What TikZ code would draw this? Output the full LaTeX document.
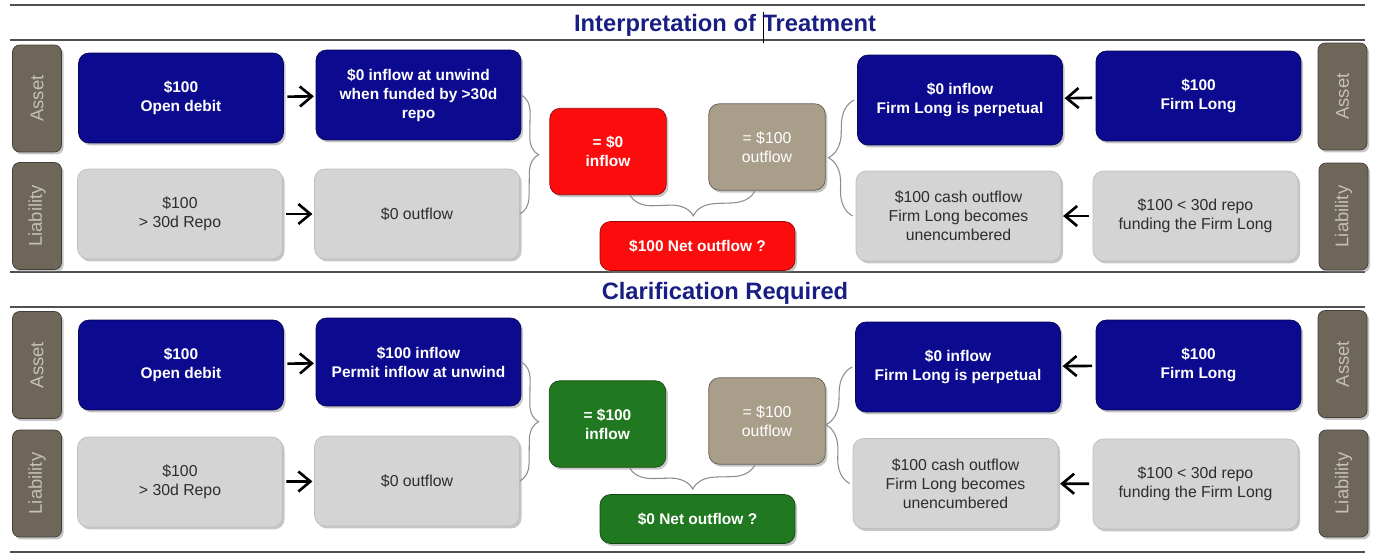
\documentclass[tikz,border=0pt]{standalone}
\usepackage{fontspec}
\setmainfont{Liberation Sans}
\usetikzlibrary{arrows.meta,shadows,decorations.pathreplacing,calc}

\definecolor{boxblue}{RGB}{12,10,142}
\definecolor{boxred}{RGB}{252,12,12}
\definecolor{boxgreen}{RGB}{32,120,32}
\definecolor{boxtan}{RGB}{168,158,138}
\definecolor{boxgrey}{RGB}{212,212,212}
\definecolor{greytext}{RGB}{45,45,45}
\definecolor{tagbrown}{RGB}{110,102,88}
\definecolor{tagtext}{RGB}{196,192,184}
\definecolor{titleblue}{RGB}{25,30,130}
\definecolor{rulegrey}{RGB}{80,80,80}

\begin{document}
\begin{tikzpicture}[x=0.02cm, y=-0.02cm]
        % Define styles
        \tikzset{
            card/.style={rounded corners=6pt, minimum width=4.1cm, minimum height=1.8cm,
                align=center, inner sep=2pt,
                drop shadow={shadow xshift=1.2pt, shadow yshift=-1.4pt, opacity=0.45}},
            bluecard/.style={card, fill=boxblue, draw=boxblue!60!black, text=white,
                font=\fontsize{8.8}{10.8}\selectfont\bfseries},
            greycard/.style={card, fill=boxgrey, draw=black!25, text=greytext,
                font=\fontsize{9}{10.8}\selectfont},
            sumcard/.style={card, minimum width=2.33cm, minimum height=1.73cm,
                font=\fontsize{8.8}{10.8}\selectfont\bfseries, text=white},
            netcard/.style={card, minimum width=3.9cm, minimum height=0.98cm,
                font=\fontsize{8.8}{10.8}\selectfont\bfseries, text=white},
            sidetag/.style={rounded corners=4pt, fill=tagbrown, draw=tagbrown!60!black,
                text=tagtext, rotate=90, minimum width=2.14cm, minimum height=0.98cm,
                font=\fontsize{10.5}{12}\selectfont,
                drop shadow={shadow xshift=1.2pt, shadow yshift=-1.4pt, opacity=0.45}},
            heading/.style={font=\fontsize{13.5}{16}\selectfont\bfseries, text=titleblue},
            rule/.style={rulegrey, line width=1pt},
            flow/.style={-{Straight Barb[length=2.4mm, width=4mm, line width=1.5pt]},
                line width=1.5pt, shorten <=2pt, shorten >=1pt},
            bracket/.style={draw=black!45, line width=0.6pt, decorate,
                decoration={brace, amplitude=#1}}
        }
        % Rules and headings
        \draw[rule] (10,5) -- (1365,5);
        \draw[rule] (10,40) -- (1365,40);
        \draw[rule] (10,272) -- (1365,272);
        \draw[rule] (10,307) -- (1365,307);
        \draw[rule] (10,552) -- (1365,552);
        \draw[black, line width=0.5pt] (763,12) -- (763,43);
        \node[heading] (head1) at (725,25) {Interpretation of Treatment};
        \node[heading] (head2) at (725,293) {Clarification Required};

        % ---------- Interpretation of Treatment ----------
        \node[sidetag] (asset1L) at (37,98.5) {Asset};
        \node[sidetag] (liab1L) at (37,216) {Liability};
        \node[sidetag] (asset1R) at (1342.5,96.5) {Asset};
        \node[sidetag] (liab1R) at (1343.5,216.5) {Liability};
        % left side
        \node[bluecard] (debit1) at (181,98) {\$100\\Open debit};
        \node[bluecard] (unwind1) at (418.5,95) {\$0 inflow at unwind\\when funded by >30d\\repo};
        \node[greycard] (repo1) at (180,214) {\$100\\> 30d Repo};
        \node[greycard] (out1) at (417,214) {\$0 outflow};
        \draw[flow] (debit1) -- (unwind1);
        \draw[flow] (repo1) -- (out1);
        % middle
        \node[sumcard, fill=boxred, draw=boxred!60!black] (sumL1) at (608,151.5) {= \$0\\inflow};
        \node[sumcard, fill=boxtan, draw=boxtan!60!black, font=\fontsize{9}{10.8}\selectfont, text=white] (sumR1) at (767,147) {= \$100\\outflow};
        \node[netcard, fill=boxred, draw=boxred!60!black] (net1) at (697.5,246) {\$100 Net outflow ?};
        % right side
        \node[bluecard] (perp1) at (960,100) {\$0 inflow\\Firm Long is perpetual};
        \node[bluecard] (long1) at (1198.5,96) {\$100\\Firm Long};
        \node[greycard] (cash1) at (958.5,216) {\$100 cash outflow\\Firm Long becomes\\unencumbered};
        \node[greycard] (short1) at (1195.5,216) {\$100 < 30d repo\\funding the Firm Long};
        \draw[flow] (long1) -- (perp1);
        \draw[flow] (short1) -- (cash1);
        % brackets
        \draw[bracket=0.36cm] (unwind1.east) -- (out1.east);
        \draw[bracket=0.5cm] ($(cash1.west)+(-3,0)$) -- ($(perp1.west)+(-3,0)$);
        \draw[bracket=0.46cm] ($(sumR1.south)+(-12,0)$) -- ($(sumL1.south)+(22,0)$);

        % ---------- Clarification Required ----------
        \node[sidetag] (asset2L) at (37,365) {Asset};
        \node[sidetag] (liab2L) at (37,483.5) {Liability};
        \node[sidetag] (asset2R) at (1342.5,364) {Asset};
        \node[sidetag] (liab2R) at (1343.5,483.5) {Liability};
        % left side
        \node[bluecard] (debit2) at (181,365) {\$100\\Open debit};
        \node[bluecard, minimum height=1.76cm] (unwind2) at (418.5,362) {\$100 inflow\\Permit inflow at unwind};
        \node[greycard] (repo2) at (180,482) {\$100\\> 30d Repo};
        \node[greycard] (out2) at (417,481) {\$0 outflow};
        \draw[flow] (debit2) -- (unwind2);
        \draw[flow] (repo2) -- (out2);
        % middle
        \node[sumcard, fill=boxgreen, draw=boxgreen!60!black] (sumL2) at (607.5,424) {= \$100\\inflow};
        \node[sumcard, fill=boxtan, draw=boxtan!60!black, font=\fontsize{9}{10.8}\selectfont, text=white] (sumR2) at (767,421) {= \$100\\outflow};
        \node[netcard, fill=boxgreen, draw=boxgreen!60!black] (net2) at (697.5,519) {\$0 Net outflow ?};
        % right side
        \node[bluecard] (perp2) at (958,367) {\$0 inflow\\Firm Long is perpetual};
        \node[bluecard] (long2) at (1198.5,365) {\$100\\Firm Long};
        \node[greycard] (cash2) at (955.5,483.5) {\$100 cash outflow\\Firm Long becomes\\unencumbered};
        \node[greycard] (short2) at (1195.5,484) {\$100 < 30d repo\\funding the Firm Long};
        \draw[flow] (long2) -- (perp2);
        \draw[flow] (short2) -- (cash2);
        % brackets
        \draw[bracket=0.36cm] (unwind2.east) -- (out2.east);
        \draw[bracket=0.5cm] ($(cash2.west)+(-3,0)$) -- ($(perp2.west)+(-3,0)$);
        \draw[bracket=0.46cm] ($(sumR2.south)+(-12,0)$) -- ($(sumL2.south)+(22,0)$);

        \useasboundingbox (0,0) rectangle (1373,555);
    \end{tikzpicture}
\end{document}
